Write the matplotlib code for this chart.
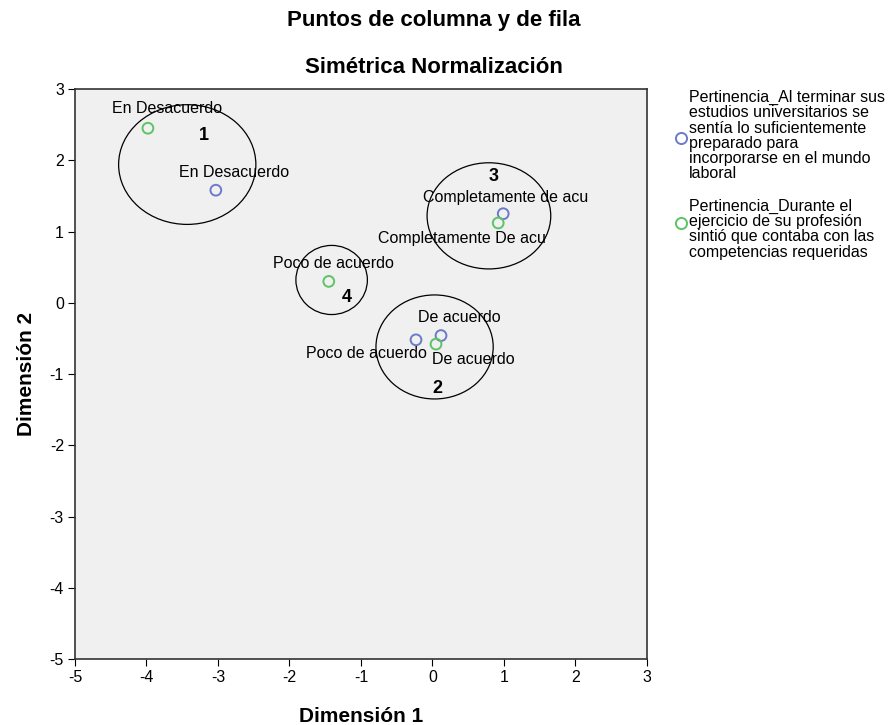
import matplotlib
matplotlib.use('Agg')
import matplotlib.pyplot as plt
from matplotlib.patches import Ellipse
from matplotlib.lines import Line2D

plt.rcParams['font.family'] = ['Liberation Sans', 'DejaVu Sans']
plt.rcParams['axes.unicode_minus'] = False

# fila: Pertinencia_Al terminar...
row_labels = ["En Desacuerdo", "Completamente de acu", "De acuerdo", "Poco de acuerdo"]
row_x = [-3.03, 0.99, 0.12, -0.23]
row_y = [1.58, 1.25, -0.46, -0.52]

# columna: Pertinencia_Durante...
col_labels = ["En Desacuerdo", "Completamente De acu", "Poco de acuerdo", "De acuerdo"]
col_x = [-3.98, 0.92, -1.45, 0.05]
col_y = [2.45, 1.12, 0.30, -0.58]

# grupos marcados a mano
group_ids = ["1", "2", "3", "4"]
group_cx = [-3.43, 0.03, 0.79, -1.41]
group_cy = [1.94, -0.62, 1.22, 0.32]
group_w = [1.92, 1.64, 1.73, 1.00]
group_h = [1.68, 1.46, 1.49, 0.97]
group_lx = [-3.2, 0.07, 0.85, -1.2]
group_ly = [2.35, -1.2, 1.77, 0.08]

legend_texts = [
    "Pertinencia_Al terminar sus\nestudios universitarios se\nsentía lo suficientemente\npreparado para\nincorporarse en el mundo\nlaboral",
    "Pertinencia_Durante el\nejercicio de su profesión\nsintió que contaba con las\ncompetencias requeridas",
]

blue = "#6b7bc9"
green = "#5cc466"

fig = plt.figure(figsize=(8.95, 7.25), dpi=100, facecolor='white')
ax = fig.add_axes([0.0838, 0.091, 0.639, 0.7862])
ax.set_facecolor('#f0f0f0')

ax.scatter(row_x, row_y, s=60, facecolors='none', edgecolors=blue, linewidths=1.4, zorder=3)
ax.scatter(col_x, col_y, s=60, facecolors='none', edgecolors=green, linewidths=1.4, zorder=3)

# etiquetas de puntos (desplazamiento en puntos)
row_off = [(13, 13), (2, 12), (13, 13), (-36, -10)]
col_off = [(14, 14), (-26, -11), (3, 13), (27, -11)]
for lab, x, y, off in zip(row_labels, row_x, row_y, row_off):
    ax.annotate(lab, (x, y), xytext=off, textcoords='offset points', ha='center', va='center', fontsize=11.5)
for lab, x, y, off in zip(col_labels, col_x, col_y, col_off):
    ax.annotate(lab, (x, y), xytext=off, textcoords='offset points', ha='center', va='center', fontsize=11.5)

for gid, cx, cy, w, h, lx, ly in zip(group_ids, group_cx, group_cy, group_w, group_h, group_lx, group_ly):
    ax.add_patch(Ellipse((cx, cy), w, h, fill=False, edgecolor='black', linewidth=0.9, zorder=2))
    ax.text(lx, ly, gid, fontsize=13, fontweight='bold', ha='center', va='center')

ax.set_xlim(-5, 3)
ax.set_ylim(-5, 3)
ax.set_xticks(range(-5, 4))
ax.set_yticks(range(-5, 4))
ax.tick_params(direction='out', length=5, labelsize=11.5, top=False, right=False, pad=3)
for s in ax.spines.values():
    s.set_color('#333333')
    s.set_linewidth(1.2)

ax.set_xlabel("Dimensión 1", fontsize=15, fontweight='bold', labelpad=16)
ax.set_ylabel("Dimensión 2", fontsize=15, fontweight='bold', labelpad=10)

fig.text(0.485, 0.972, "Puntos de columna y de fila", ha='center', va='center', fontsize=16, fontweight='bold')
fig.text(0.485, 0.907, "Simétrica Normalización", ha='center', va='center', fontsize=16, fontweight='bold')

# leyenda manual
fig.text(0.770, 0.876, legend_texts[0], ha='left', va='top', fontsize=11.5, linespacing=1.02)
fig.text(0.770, 0.726, legend_texts[1], ha='left', va='top', fontsize=11.5, linespacing=1.02)
fig.add_artist(Line2D([0.761], [1 - 138 / 725], transform=fig.transFigure, marker='o', markersize=8,
                      markerfacecolor='none', markeredgecolor=blue, markeredgewidth=1.4, linestyle='none'))
fig.add_artist(Line2D([0.761], [1 - 223 / 725], transform=fig.transFigure, marker='o', markersize=8,
                      markerfacecolor='none', markeredgecolor=green, markeredgewidth=1.4, linestyle='none'))

plt.savefig('out.png', dpi=100)
